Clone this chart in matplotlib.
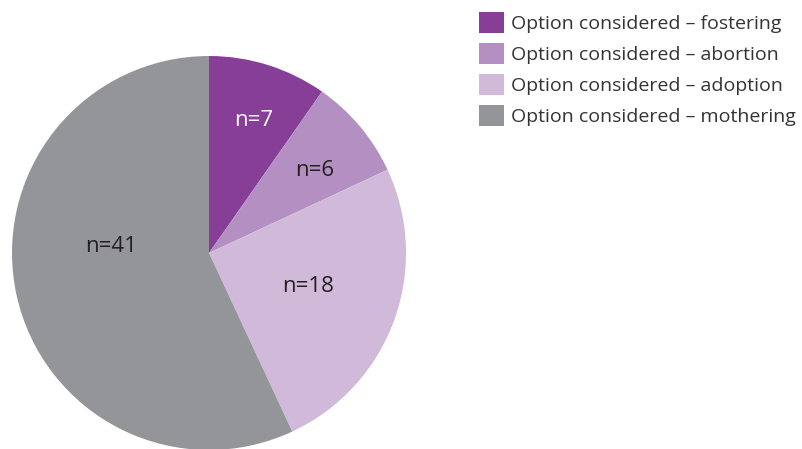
import matplotlib.pyplot as plt
from matplotlib.patches import Patch
import numpy as np

options = ['fostering', 'abortion', 'adoption', 'mothering']
counts = [7, 6, 18, 41]
colors = ['#873e96', '#b48fc2', '#d0b9d9', '#939598']
text_colors = ['white', '#231f20', '#231f20', '#231f20']
# label placement: fraction of radius and angle shift (degrees) from wedge middle
label_r = [0.71, 0.68, 0.53, 0.50]
label_shift = [-1, -2, 1, -16]

plt.rcParams['font.family'] = ['Open Sans', 'DejaVu Sans']

fig = plt.figure(figsize=(8.03, 4.49), dpi=100)
ax = fig.add_axes([12 / 803, -1 / 449, 394 / 803, 394 / 449])

wedges, _ = ax.pie(counts, colors=colors, startangle=90, counterclock=False,
                   radius=1, wedgeprops={'linewidth': 0})
for w in wedges:
    w.set_clip_on(False)
ax.set_xlim(-1, 1)
ax.set_ylim(-1, 1)
ax.set_aspect('equal')
ax.axis('off')

for i, w in enumerate(wedges):
    mid = np.deg2rad((w.theta1 + w.theta2) / 2 + label_shift[i])
    r = label_r[i]
    ax.text(r * np.cos(mid), r * np.sin(mid), 'n=%d' % counts[i],
            ha='center', va='center', fontsize=16, color=text_colors[i])

handles = [Patch(facecolor=c, edgecolor='none') for c in colors]
labels = ['Option considered – ' + o for o in options]
fig.legend(handles, labels, loc='upper left', bbox_to_anchor=(479 / 803, 1 - 12 / 449),
           frameon=False, fontsize=14, handlelength=1.3, handleheight=1.3,
           handletextpad=0.35, labelspacing=0.5, borderpad=0, borderaxespad=0,
           labelcolor='#333333')

fig.savefig('out.png', dpi=100)
